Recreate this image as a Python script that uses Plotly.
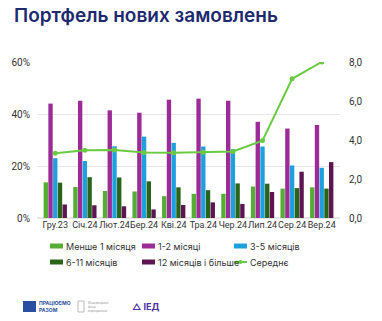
import plotly.graph_objects as go

categories = ["Гру.23", "Січ.24", "Лют.24", "Бер.24", "Кві.24", "Тра.24", "Чер.24", "Лип.24", "Сер.24", "Вер.24"]
less_1 = [13.7, 11.9, 10.4, 10.2, 8.4, 9.3, 9.3, 12.1, 11.3, 11.8]
m_1_2 = [44.0, 45.1, 41.4, 40.5, 45.5, 45.9, 45.1, 37.0, 34.4, 35.8]
m_3_5 = [23.0, 21.9, 27.6, 31.3, 28.9, 27.5, 26.5, 27.5, 20.2, 19.3]
m_6_11 = [13.6, 15.7, 15.6, 14.1, 11.8, 10.7, 13.3, 13.2, 11.5, 11.3]
m_12_plus = [5.2, 4.9, 4.5, 3.3, 5.0, 6.0, 5.4, 10.0, 17.8, 21.5]
average = [3.32, 3.48, 3.49, 3.36, 3.34, 3.37, 3.41, 3.97, 7.14, 8.0]

left_ticks = [0, 20, 40, 60]
left_labels = ["0%", "20%", "40%", "60%"]
right_ticks = [0, 2, 4, 6, 8]
right_labels = ["0,0", "2,0", "4,0", "6,0", "8,0"]

series = [
    ("Менше 1 місяця", less_1, "#56AD33"),
    ("1-2 місяці", m_1_2, "#9C2A97"),
    ("3-5 місяців", m_3_5, "#1DA0DB"),
    ("6-11 місяців", m_6_11, "#2A6419"),
    ("12 місяців і більше", m_12_plus, "#5C1550"),
]
avg_name, avg_color = "Середнє", "#6ACB42"

# pixel geometry of the plot area (used for paper-coordinate placement)
W, H = 382, 321
L, R, T, B = 37, 42, 62, 103
PW, PH = W - L - R, H - T - B

def px(x):
    return (x - L) / PW

def py(y):
    return (H - B - y) / PH

fig = go.Figure()
for name, vals, col in series:
    fig.add_trace(go.Bar(x=categories, y=vals, name=name, marker=dict(color=col, line=dict(width=0)), yaxis="y"))
fig.add_trace(go.Scatter(x=categories, y=average, name=avg_name, mode="lines+markers",
                         line=dict(color=avg_color, width=2), marker=dict(size=5, color=avg_color), yaxis="y2"))

font = "Inter, Roboto, 'Open Sans', sans-serif"
tickfam = "Roboto, 'Open Sans', sans-serif"
fig.update_layout(
    width=W, height=H,
    margin=dict(l=L, r=R, t=T, b=B),
    paper_bgcolor="white", plot_bgcolor="white",
    barmode="group", bargap=0.2, bargroupgap=0.08,
    font=dict(family=font, size=10, color="#333333"),
    title=dict(text="Портфель нових замовлень", font=dict(family=font, size=19, color="#1D2A6E", weight=600),
               xref="container", yref="container", x=14/W, xanchor="left", y=1-15/H, yanchor="middle"),
    xaxis=dict(showgrid=False, showline=False, ticks="", tickangle=0,
               tickfont=dict(family=tickfam, size=9, color="#333333")),
    yaxis=dict(range=[0, 60], tickvals=left_ticks, ticktext=left_labels, showgrid=True, gridcolor="#E6E6E6",
               gridwidth=1, zeroline=True, zerolinecolor="#E6E6E6", ticks="", ticklabelstandoff=6,
               tickfont=dict(family=tickfam, size=10, color="#333333")),
    yaxis2=dict(range=[0, 8], tickvals=right_ticks, ticktext=right_labels, overlaying="y", side="right",
                showgrid=False, zeroline=False, ticks="", ticklabelstandoff=8,
                tickfont=dict(family=tickfam, size=10, color="#333333")),
    showlegend=False,
)

# Manual legend (3 columns x 2 rows) built from the series list
col_x = [50, 142, 234]
row_y = [246, 262]
entries = [(n, c, "bar") for n, _, c in series] + [(avg_name, avg_color, "line")]
for i, (name, col, kind) in enumerate(entries):
    cx = col_x[i % 3]
    cy = row_y[i // 3]
    if kind == "bar":
        fig.add_shape(type="rect", xref="paper", yref="paper", x0=px(cx), x1=px(cx + 13),
                      y0=py(cy + 2.5), y1=py(cy - 2.5), fillcolor=col, line=dict(width=0))
    else:
        fig.add_shape(type="line", xref="paper", yref="paper", x0=px(cx), x1=px(cx + 13),
                      y0=py(cy), y1=py(cy), line=dict(color=col, width=2))
        fig.add_shape(type="circle", xref="paper", yref="paper", x0=px(cx + 4.5), x1=px(cx + 8.5),
                      y0=py(cy + 2), y1=py(cy - 2), fillcolor=col, line=dict(width=0))
    fig.add_annotation(text=name, xref="paper", yref="paper", x=px(cx + 14), y=py(cy),
                       xanchor="left", yanchor="middle", showarrow=False,
                       font=dict(family=font, size=9, color="#333333"))

# Footer logos approximated with shapes and text
fig.add_shape(type="rect", xref="paper", yref="paper", x0=px(23), x1=px(36),
              y0=py(312), y1=py(301), fillcolor="#2B4FA0", line=dict(width=0))
fig.add_annotation(text="<b>ПРАЦЮЄМО</b><br><b>РАЗОМ</b>", xref="paper", yref="paper", x=px(37), y=py(306.5),
                   xanchor="left", yanchor="middle", showarrow=False, align="left",
                   font=dict(size=5, color="#2B4FA0", family=font))
fig.add_shape(type="rect", xref="paper", yref="paper", x0=px(78), x1=px(84),
              y0=py(312), y1=py(301), fillcolor="rgba(0,0,0,0)", line=dict(width=1, color="#BBBBBB"))
fig.add_annotation(text="Міжнародний<br>фонд<br>відродження", xref="paper", yref="paper", x=px(86), y=py(306.5),
                   xanchor="left", yanchor="middle", showarrow=False, align="left",
                   font=dict(size=3, color="#999999", family=font))
fig.add_annotation(text="<b>△ ІЕД</b>", xref="paper", yref="paper", x=px(130), y=py(306.5),
                   xanchor="left", yanchor="middle", showarrow=False,
                   font=dict(size=9, color="#4B2FA0", family=font))

fig.write_html("out.html")
